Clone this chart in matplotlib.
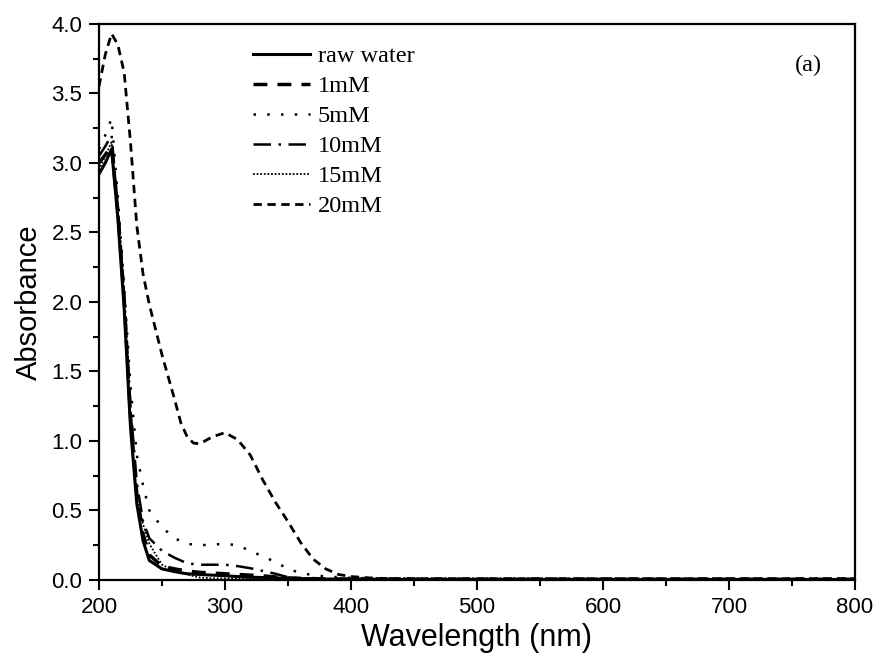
import matplotlib
matplotlib.use("Agg")
import matplotlib.pyplot as plt
from matplotlib.ticker import MultipleLocator, FormatStrFormatter

wavelength = [200, 205, 210, 215, 220, 225, 230, 235, 240, 250, 260, 265, 270, 275,
              280, 290, 300, 310, 320, 330, 340, 350, 360, 370, 380, 390, 400, 420,
              450, 500, 600, 700, 800]

raw_water = [2.92, 3.00, 3.10, 2.60, 1.95, 1.10, 0.55, 0.28, 0.14, 0.08, 0.06, 0.052,
             0.045, 0.042, 0.04, 0.035, 0.03, 0.025, 0.02, 0.018, 0.015, 0.012, 0.01,
             0.008, 0.007, 0.006, 0.005, 0.005, 0.004, 0.004, 0.004, 0.004, 0.004]
mM1 = [3.00, 3.06, 3.12, 2.65, 2.02, 1.18, 0.62, 0.33, 0.18, 0.10, 0.08, 0.072,
       0.065, 0.06, 0.055, 0.05, 0.045, 0.04, 0.035, 0.03, 0.022, 0.015, 0.012,
       0.01, 0.008, 0.007, 0.006, 0.005, 0.005, 0.005, 0.005, 0.005, 0.005]
mM5 = [3.10, 3.20, 3.32, 2.75, 2.10, 1.40, 0.90, 0.68, 0.50, 0.38, 0.30, 0.28,
       0.26, 0.255, 0.25, 0.255, 0.26, 0.25, 0.21, 0.17, 0.13, 0.08, 0.05, 0.035,
       0.025, 0.02, 0.015, 0.012, 0.01, 0.01, 0.01, 0.01, 0.01]
mM10 = [3.05, 3.12, 3.20, 2.68, 2.05, 1.25, 0.70, 0.42, 0.30, 0.21, 0.16, 0.14,
        0.12, 0.115, 0.11, 0.11, 0.11, 0.10, 0.085, 0.065, 0.045, 0.02, 0.012,
        0.01, 0.008, 0.007, 0.006, 0.005, 0.005, 0.005, 0.005, 0.005, 0.005]
mM15 = [2.95, 3.05, 3.15, 2.62, 1.98, 1.15, 0.60, 0.40, 0.26, 0.11, 0.065, 0.05,
        0.04, 0.028, 0.018, 0.012, 0.01, 0.01, 0.01, 0.008, 0.007, 0.006, 0.005,
        0.005, 0.005, 0.004, 0.004, 0.004, 0.004, 0.004, 0.004, 0.004, 0.004]
mM20 = [3.55, 3.78, 3.93, 3.85, 3.65, 3.15, 2.55, 2.20, 1.98, 1.62, 1.30, 1.13,
        1.03, 0.985, 0.98, 1.03, 1.06, 1.01, 0.90, 0.72, 0.56, 0.42, 0.27, 0.15,
        0.08, 0.04, 0.025, 0.012, 0.01, 0.01, 0.01, 0.01, 0.01]

labels = ["raw water", "1mM", "5mM", "10mM", "15mM", "20mM"]

fig = plt.figure(figsize=(8.79, 6.64), dpi=100)
ax = fig.add_axes([0.1126, 0.1265, 0.8601, 0.8374])

styles = [
    dict(linestyle="-", lw=2.2),
    dict(linestyle=(0, (4, 2.9)), lw=2.5),
    dict(linestyle=(0, (1, 4.5)), lw=1.8),
    dict(linestyle=(0, (7, 3, 1, 3)), lw=1.8),
    dict(linestyle=(0, (1, 1)), lw=1.3),
    dict(linestyle=(0, (3, 2)), lw=2.0),
]
series = [raw_water, mM1, mM5, mM10, mM15, mM20]
for y, lab, st in zip(series, labels, styles):
    ax.plot(wavelength, y, color="black", label=lab, **st)

ax.set_xlim(200, 800)
ax.set_ylim(0, 4.0)
ax.xaxis.set_major_locator(MultipleLocator(100))
ax.xaxis.set_minor_locator(MultipleLocator(50))
ax.yaxis.set_major_locator(MultipleLocator(0.5))
ax.yaxis.set_minor_locator(MultipleLocator(0.25))
ax.yaxis.set_major_formatter(FormatStrFormatter("%.1f"))

for s in ax.spines.values():
    s.set_linewidth(1.6)
ax.tick_params(which="both", direction="out", top=False, right=False, width=1.5)
ax.tick_params(which="major", length=7, labelsize=16, pad=5)
ax.tick_params(which="minor", length=4)
for t in ax.get_xticklabels() + ax.get_yticklabels():
    t.set_fontfamily("Liberation Sans")

ax.set_xlabel("Wavelength (nm)", fontsize=22, fontfamily="Liberation Sans", labelpad=4)
ax.set_ylabel("Absorbance", fontsize=21, fontfamily="Liberation Sans", labelpad=6)

leg = ax.legend(loc="upper left", bbox_to_anchor=(0.204, 0.962), frameon=False,
                prop={"family": "Liberation Serif", "size": 17.5},
                handlelength=2.35, handletextpad=0.3, labelspacing=0.33,
                borderpad=0, borderaxespad=0)

ax.text(0.938, 0.926, "(a)", transform=ax.transAxes, fontsize=17.5,
        fontfamily="Liberation Serif", ha="center", va="center")

fig.savefig("out.png", dpi=100)
